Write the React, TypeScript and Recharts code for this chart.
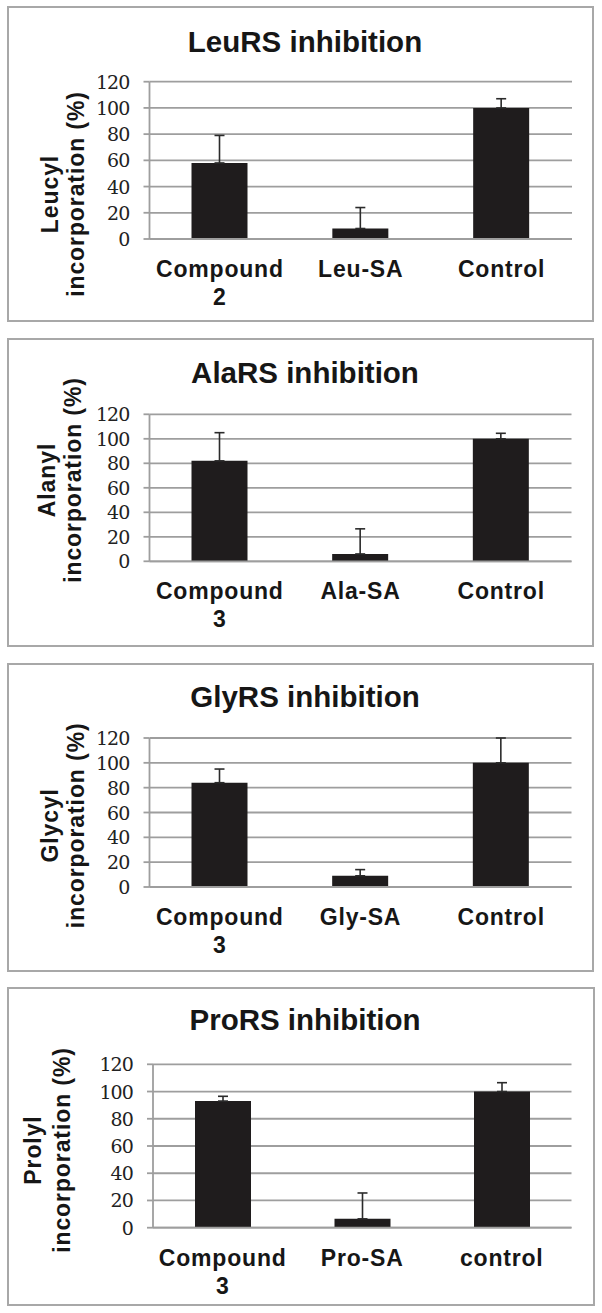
import React from 'react';
import { BarChart, Bar, XAxis, YAxis, CartesianGrid, ErrorBar } from 'recharts';

// Values (percent incorporation, upper error only)
const yTicks = [0, 20, 40, 60, 80, 100, 120];

const leuCategories = ['Compound 2', 'Leu-SA', 'Control'];
const leuValues = [58, 8, 100];
const leuErrors = [21, 16, 7];

const alaCategories = ['Compound 3', 'Ala-SA', 'Control'];
const alaValues = [82, 6, 100];
const alaErrors = [23, 20.5, 4.5];

const glyCategories = ['Compound 3', 'Gly-SA', 'Control'];
const glyValues = [84, 9, 100];
const glyErrors = [11, 5, 20];

const proCategories = ['Compound 3', 'Pro-SA', 'control'];
const proValues = [93, 6.5, 100];
const proErrors = [3.5, 19, 6.5];

const SANS = '"Liberation Sans", Arial, sans-serif';
const SERIF = '"DejaVu Serif", "Liberation Serif", serif';
const GRID = '#9e9e9e';

const buildRows = (cats: string[], vals: number[], errs: number[]) =>
  cats.map((name, i) => ({ name, value: vals[i], err: [0, errs[i]] }));

// page positions of each panel (box + plot area + text anchors)
const panels = [
  {
    title: 'LeuRS inhibition', yLabel: ['Leucyl', 'incorporation (%)'],
    rows: buildRows(leuCategories, leuValues, leuErrors),
    box: { left: 7, top: 6, right: 594, bottom: 322 },
    plot: { top: 81.7, bottom: 239, left: 149.5, right: 572 },
    titleY: 51.7, labelX: [58, 84], labelY: 194,
  },
  {
    title: 'AlaRS inhibition', yLabel: ['Alanyl', 'incorporation (%)'],
    rows: buildRows(alaCategories, alaValues, alaErrors),
    box: { left: 7, top: 338, right: 594, bottom: 647 },
    plot: { top: 414.3, bottom: 561.3, left: 149.5, right: 571.5 },
    titleY: 382.5, labelX: [55, 81], labelY: 480,
  },
  {
    title: 'GlyRS inhibition', yLabel: ['Glycyl', 'incorporation (%)'],
    rows: buildRows(glyCategories, glyValues, glyErrors),
    box: { left: 7, top: 662.7, right: 594, bottom: 971.7 },
    plot: { top: 737.7, bottom: 886.7, left: 149.5, right: 571.5 },
    titleY: 706.7, labelX: [58, 84], labelY: 825,
  },
  {
    title: 'ProRS inhibition', yLabel: ['Prolyl', 'incorporation (%)'],
    rows: buildRows(proCategories, proValues, proErrors),
    box: { left: 7, top: 987, right: 595, bottom: 1306 },
    plot: { top: 1064.3, bottom: 1227.7, left: 153, right: 571.5 },
    titleY: 1030, labelX: [41, 70], labelY: 1150,
  },
];

const CategoryTick = (props: any) => {
  const { x, y, payload } = props;
  const lines = String(payload.value).split(' ');
  return (
    <text
      x={x}
      y={y + 38}
      textAnchor="middle"
      fontFamily={SANS}
      fontWeight="bold"
      fontSize={23}
      letterSpacing={0.8}
      fill="#161616"
    >
      {lines.map((l, i) => (
        <tspan key={i} x={x} dy={i === 0 ? 0 : 28}>{l}</tspan>
      ))}
    </text>
  );
};

const ValueTick = (props: any) => {
  const { x, y, payload } = props;
  return (
    <text
      x={x}
      y={y + 7}
      textAnchor="end"
      fontFamily={SERIF}
      fontSize={19}
      letterSpacing={-0.9}
      fill="#222222"
    >
      {payload.value}
    </text>
  );
};

const Panel = ({ p }: { p: (typeof panels)[number] }) => {
  const H = p.box.bottom - p.box.top;
  const top = p.box.top;
  return (
    <>
      <div
        style={{
          position: 'absolute',
          left: p.box.left,
          top: p.box.top,
          width: p.box.right - p.box.left,
          height: H,
          border: '2px solid #a8a8a8',
          boxSizing: 'border-box',
        }}
      />
      <div style={{ position: 'absolute', left: 0, top }}>
        <BarChart
          width={602}
          height={H}
          data={p.rows}
          margin={{ top: p.plot.top - top, right: 602 - p.plot.right, bottom: 0, left: 0 }}
        >
          <CartesianGrid vertical={false} stroke={GRID} strokeWidth={1.8} />
          <XAxis
            dataKey="name"
            axisLine={{ stroke: GRID, strokeWidth: 1.8 }}
            tickLine={false}
            tickSize={0}
            tickMargin={0}
            height={p.box.bottom - p.plot.bottom}
            tick={<CategoryTick />}
            interval={0}
          />
          <YAxis
            domain={[0, 120]}
            ticks={yTicks}
            interval={0}
            width={p.plot.left}
            stroke={GRID}
            axisLine={{ stroke: GRID, strokeWidth: 1.8 }}
            tickLine={{ stroke: GRID, strokeWidth: 1.8 }}
            tickSize={6}
            tickMargin={14}
            tick={<ValueTick />}
          />
          <Bar dataKey="value" fill="#1f1c1d" barSize={56} isAnimationActive={false}>
            <ErrorBar dataKey="err" width={5} strokeWidth={1.6} stroke="#2b2b2b" direction="y" />
          </Bar>
        </BarChart>
      </div>
      <svg
        width={602}
        height={H}
        style={{ position: 'absolute', left: 0, top, pointerEvents: 'none' }}
      >
        <text
          x={305}
          y={p.titleY - top}
          textAnchor="middle"
          fontFamily={SANS}
          fontWeight="bold"
          fontSize={29.5}
          fill="#161616"
        >
          {p.title}
        </text>
        {p.yLabel.map((line, i) => (
          <text
            key={i}
            x={p.labelX[i]}
            y={p.labelY - top}
            transform={`rotate(-90 ${p.labelX[i]} ${p.labelY - top})`}
            textAnchor="middle"
            fontFamily={SANS}
            fontWeight="bold"
            fontSize={23}
            letterSpacing={0.9}
            fill="#161616"
          >
            {line}
          </text>
        ))}
      </svg>
    </>
  );
};

const App = () => (
  <div style={{ position: 'absolute', left: 0, top: 0, width: 602, height: 1313, background: '#fff' }}>
    {panels.map((p, i) => (
      <Panel key={i} p={p} />
    ))}
  </div>
);

export default App;
